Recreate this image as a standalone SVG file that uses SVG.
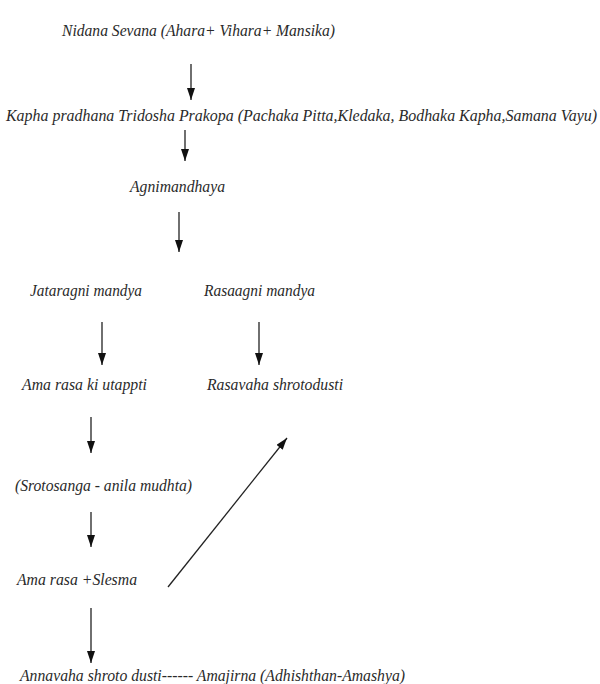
<svg xmlns="http://www.w3.org/2000/svg" width="600" height="684" viewBox="0 0 600 684">
<style>
text{font-family:'Liberation Serif','DejaVu Serif',serif;font-style:italic;font-size:16px;fill:#2a2a2a}
.c line{stroke:#222;stroke-width:1.3;marker-end:url(#ah)}
</style>
<defs>
<marker id="ah" markerUnits="userSpaceOnUse" markerWidth="12" markerHeight="8" viewBox="0 0 12 8" refX="12" refY="4" orient="auto">
<path d="M0,0 L12,4 L0,8 Z" fill="#111"/>
</marker>
</defs>
<rect width="600" height="684" fill="#fff"/>
<g id="n1"><text x="62" y="36" textLength="273" lengthAdjust="spacingAndGlyphs">Nidana Sevana (Ahara+ Vihara+ Mansika)</text></g>
<g id="n2"><text x="6" y="121" textLength="591" lengthAdjust="spacingAndGlyphs">Kapha pradhana Tridosha Prakopa (Pachaka Pitta,Kledaka, Bodhaka Kapha,Samana  Vayu)</text></g>
<g id="n3"><text x="130" y="192" textLength="95" lengthAdjust="spacingAndGlyphs">Agnimandhaya</text></g>
<g id="n4"><text x="30" y="296" textLength="112" lengthAdjust="spacingAndGlyphs">Jataragni mandya</text></g>
<g id="n5"><text x="204" y="296" textLength="111" lengthAdjust="spacingAndGlyphs">Rasaagni mandya</text></g>
<g id="n6"><text x="22" y="390" textLength="125" lengthAdjust="spacingAndGlyphs">Ama rasa ki utappti</text></g>
<g id="n7"><text x="207" y="390" textLength="136" lengthAdjust="spacingAndGlyphs">Rasavaha shrotodusti</text></g>
<g id="n8"><text x="15" y="491" textLength="177" lengthAdjust="spacingAndGlyphs">(Srotosanga - anila mudhta)</text></g>
<g id="n9"><text x="17" y="585" textLength="120" lengthAdjust="spacingAndGlyphs">Ama rasa +Slesma</text></g>
<g id="n10"><text x="20" y="681" textLength="385" lengthAdjust="spacingAndGlyphs">Annavaha shroto dusti------ Amajirna (Adhishthan-Amashya)</text></g>
<g id="connectors" class="c">
<line x1="191" y1="64" x2="191" y2="100"/>
<line x1="185" y1="130" x2="185" y2="161"/>
<line x1="179" y1="212" x2="179" y2="252"/>
<line x1="102" y1="322" x2="102" y2="365"/>
<line x1="259" y1="322" x2="259" y2="365"/>
<line x1="91" y1="417" x2="91" y2="453"/>
<line x1="91" y1="512" x2="91" y2="547"/>
<line x1="91" y1="608" x2="91" y2="663"/>
<line x1="168" y1="587" x2="287" y2="438"/>
</g>
</svg>
